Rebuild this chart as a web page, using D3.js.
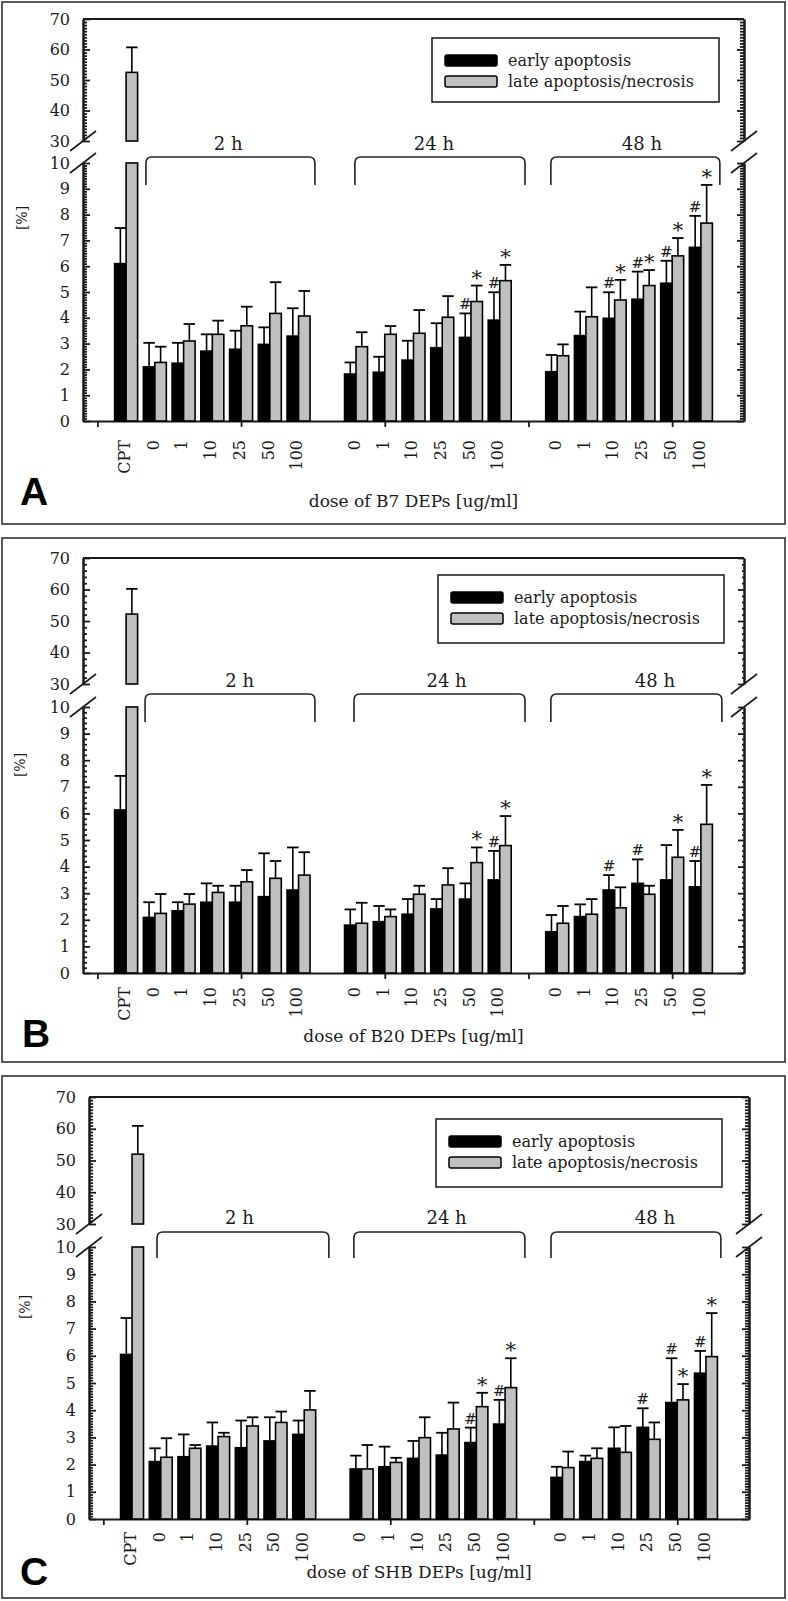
<!DOCTYPE html>
<html><head><meta charset="utf-8">
<script src="https://cdn.jsdelivr.net/npm/d3@7"></script>
<style>body{margin:0;background:#fff} svg{display:block}</style>
</head><body>
<svg id="chart" width="788" height="1601"></svg>
<script>
// ---------------- data ----------------
const doses = ["0", "1", "10", "25", "50", "100"];
const times = ["2 h", "24 h", "48 h"];
const seriesNames = ["early apoptosis", "late apoptosis/necrosis"];
const panelLetters = ["A", "B", "C"];
const xTitles = ["dose of B7 DEPs [ug/ml]", "dose of B20 DEPs [ug/ml]", "dose of SHB DEPs [ug/ml]"];
const yLowTicks = [0, 1, 2, 3, 4, 5, 6, 7, 8, 9, 10];
const yHighTicks = [30, 40, 50, 60, 70];

// positive control (CPT) per panel
const cptEarlyMean = [6.10, 6.13, 6.05];
const cptEarlyErr  = [1.38, 1.28, 1.34];
const cptLateMean  = [52.5, 52.2, 52.0];
const cptLateErr   = [8.2, 8.0, 8.9];

// order: 2 h (0,1,10,25,50,100), 24 h (...), 48 h (...)
const earlyMeanA = [2.10, 2.24, 2.71, 2.78, 2.97, 3.29,  1.82, 1.89, 2.36, 2.84, 3.24, 3.91,  1.91, 3.31, 3.98, 4.72, 5.34, 6.73];
const earlyErrA  = [0.93, 0.79, 0.65, 0.72, 0.66, 1.08,  0.45, 0.60, 0.75, 0.95, 0.93, 1.08,  0.65, 0.93, 1.01, 1.07, 0.87, 1.22];
const lateMeanA  = [2.27, 3.10, 3.36, 3.69, 4.17, 4.07,  2.88, 3.36, 3.40, 4.02, 4.63, 5.44,  2.53, 4.04, 4.69, 5.25, 6.40, 7.67];
const lateErrA   = [0.61, 0.66, 0.53, 0.74, 1.21, 0.97,  0.56, 0.32, 0.90, 0.82, 0.62, 0.61,  0.44, 1.14, 0.78, 0.60, 0.69, 1.48];
const sigEarlyA  = ["", "", "", "", "", "",  "", "", "", "", "#", "#",  "", "", "#", "#", "#", "#"];
const sigLateA   = ["", "", "", "", "", "",  "", "", "", "", "*", "*",  "", "", "*", "*", "*", "*"];

const earlyMeanB = [2.09, 2.34, 2.66, 2.66, 2.87, 3.12,  1.80, 1.93, 2.21, 2.41, 2.78, 3.50,  1.55, 2.12, 3.12, 3.37, 3.50, 3.24];
const earlyErrB  = [0.57, 0.32, 0.71, 0.62, 1.63, 1.60,  0.59, 0.59, 0.57, 0.37, 0.59, 1.09,  0.63, 0.46, 0.56, 0.90, 1.31, 0.97];
const lateMeanB  = [2.24, 2.59, 3.03, 3.43, 3.56, 3.68,  1.87, 2.12, 2.96, 3.31, 4.15, 4.79,  1.87, 2.21, 2.45, 2.96, 4.35, 5.59];
const lateErrB   = [0.73, 0.38, 0.25, 0.44, 0.65, 0.86,  0.77, 0.27, 0.32, 0.63, 0.57, 1.11,  0.65, 0.57, 0.77, 0.32, 1.03, 1.48];
const sigEarlyB  = ["", "", "", "", "", "",  "", "", "", "", "", "#",  "", "", "#", "#", "", "#"];
const sigLateB   = ["", "", "", "", "", "",  "", "", "", "", "*", "*",  "", "", "", "", "*", "*"];

const earlyMeanC = [2.11, 2.29, 2.68, 2.62, 2.87, 3.11,  1.84, 1.92, 2.23, 2.35, 2.81, 3.49,  1.53, 2.11, 2.60, 3.37, 4.28, 5.36];
const earlyErrC  = [0.49, 0.82, 0.87, 1.00, 0.87, 0.51,  0.49, 0.74, 0.64, 0.82, 0.55, 0.89,  0.39, 0.22, 0.77, 0.70, 1.63, 0.82];
const lateMeanC  = [2.27, 2.60, 3.03, 3.42, 3.55, 4.01,  1.84, 2.08, 2.99, 3.31, 4.13, 4.83,  1.89, 2.23, 2.45, 2.93, 4.38, 5.97];
const lateErrC   = [0.70, 0.12, 0.14, 0.32, 0.40, 0.70,  0.88, 0.17, 0.75, 0.97, 0.51, 1.08,  0.59, 0.37, 0.97, 0.62, 0.58, 1.60];
const sigEarlyC  = ["", "", "", "", "", "",  "", "", "", "", "#", "#",  "", "", "", "#", "#", "#"];
const sigLateC   = ["", "", "", "", "", "",  "", "", "", "", "*", "*",  "", "", "", "", "*", "*"];

// ---------------- layout ----------------
const layouts = [
  { box:[2,2,785,524], x0:83, x1:744, y70:19, y30:141, y10:163, y0:421,
    legend:[432,38,287,64], brTop:157, brBot:185, brLabY:150,
    br:[[1.69,7.57],[8.96,14.88],[15.78,21.66]], brLab:[4.55,11.71,18.95],
    letter:[20,505], titleY:507, yLab:[27,218], xLabOff:19,
    minorLow:0.1, minorHigh:1, rMajor:7, rMinor:4 },
  { box:[2,538,785,1062], x0:83, x1:744, y70:558, y30:684, y10:707, y0:973,
    legend:[438,575,286,68], brTop:694, brBot:722, brLabY:687,
    br:[[1.66,7.57],[8.93,14.88],[15.78,21.73]], brLab:[4.95,12.15,19.4],
    letter:[22,1047], titleY:1042, yLab:[25,765], xLabOff:14,
    minorLow:0.2, minorHigh:2, rMajor:6, rMinor:2 },
  { box:[2,1076,785,1598], x0:89, x1:749, y70:1097, y30:1224, y10:1247, y0:1519,
    legend:[436,1119,286,68], brTop:1232, brBot:1258, brLabY:1224,
    br:[[1.87,7.86],[8.73,14.69],[15.60,21.52]], brLab:[4.74,11.96,19.22],
    letter:[20,1585], titleY:1578, yLab:[30,1307], xLabOff:13,
    minorLow:0.1, minorHigh:1, rMajor:7, rMinor:4 }
];

const panelsData = [
  {em:earlyMeanA, ee:earlyErrA, lm:lateMeanA, le:lateErrA, se:sigEarlyA, sl:sigLateA},
  {em:earlyMeanB, ee:earlyErrB, lm:lateMeanB, le:lateErrB, se:sigEarlyB, sl:sigLateB},
  {em:earlyMeanC, ee:earlyErrC, lm:lateMeanC, le:lateErrC, se:sigEarlyC, sl:sigLateC}
];

const SERIF = "'DejaVu Serif', 'Liberation Serif', serif";
const INK = "#1a1a1a";
const GRAY = "#c0c0c0";
const svg = d3.select("#chart");

function drawPanel(L, D, pi) {
  const g = svg.append("g");
  // panel frame
  g.append("rect").attr("x", L.box[0]).attr("y", L.box[1])
    .attr("width", L.box[2]-L.box[0]).attr("height", L.box[3]-L.box[1])
    .attr("fill", "none").attr("stroke", "#333").attr("stroke-width", 1.6);

  const x = d3.scaleLinear().domain([-0.5, 22.5]).range([L.x0, L.x1]);
  const yL = d3.scaleLinear().domain([0, 10]).range([L.y0, L.y10]);
  const yU = d3.scaleLinear().domain([30, 70]).range([L.y30, L.y70]);
  const bw = 0.4;

  // build rows
  const rows = [];
  times.forEach((t, ti) => doses.forEach((d, di) => {
    const k = ti*6 + di;
    rows.push({slot: 2 + ti*7 + di, label: d,
      em: D.em[k], ee: D.ee[k], lm: D.lm[k], le: D.le[k], se: D.se[k], sl: D.sl[k]});
  }));

  // ---- axes ----
  const axStyle = sel => {
    sel.selectAll("path,line").attr("stroke", INK).attr("stroke-width", 1.8);
    sel.select(".domain").attr("stroke-width", 2);
  };
  // left axis, lower
  const minorLow = d3.range(0, 10 + 1e-9, L.minorLow).filter(v => Math.abs(v - Math.round(v)) > 1e-6);
  const minorHigh = d3.range(30, 70 + 1e-9, L.minorHigh).filter(v => Math.abs(v/10 - Math.round(v/10)) > 1e-6);

  const leftLow = g.append("g").attr("transform", `translate(${L.x0},0)`)
    .call(d3.axisLeft(yL).tickValues(yLowTicks).tickSize(-7).tickSizeOuter(0).tickPadding(13).tickFormat(d3.format("d")));
  const leftLowMinor = g.append("g").attr("transform", `translate(${L.x0},0)`)
    .call(d3.axisLeft(yL).tickValues(minorLow).tickSize(-4).tickSizeOuter(0).tickFormat(""));
  const leftHigh = g.append("g").attr("transform", `translate(${L.x0},0)`)
    .call(d3.axisLeft(yU).tickValues(yHighTicks).tickSize(-7).tickSizeOuter(0).tickPadding(13).tickFormat(d3.format("d")));
  const leftHighMinor = g.append("g").attr("transform", `translate(${L.x0},0)`)
    .call(d3.axisLeft(yU).tickValues(minorHigh).tickSize(-4).tickSizeOuter(0).tickFormat(""));
  // right axis
  const rightLow = g.append("g").attr("transform", `translate(${L.x1},0)`)
    .call(d3.axisRight(yL).tickValues(yLowTicks).tickSize(-L.rMajor).tickSizeOuter(0).tickFormat(""));
  const rightLowMinor = g.append("g").attr("transform", `translate(${L.x1},0)`)
    .call(d3.axisRight(yL).tickValues(minorLow).tickSize(-L.rMinor).tickSizeOuter(0).tickFormat(""));
  const rightHigh = g.append("g").attr("transform", `translate(${L.x1},0)`)
    .call(d3.axisRight(yU).tickValues(yHighTicks).tickSize(-L.rMajor).tickSizeOuter(0).tickFormat(""));
  const rightHighMinor = g.append("g").attr("transform", `translate(${L.x1},0)`)
    .call(d3.axisRight(yU).tickValues(minorHigh).tickSize(-L.rMinor).tickSizeOuter(0).tickFormat(""));
  [leftLow, leftLowMinor, leftHigh, leftHighMinor, rightLow, rightLowMinor, rightHigh, rightHighMinor].forEach(a => {
    axStyle(a);
    a.selectAll("text").attr("font-family", SERIF).attr("font-size", 16).attr("fill", INK);
  });

  // x axis
  const xAx = g.append("g").attr("transform", `translate(0,${L.y0})`)
    .call(d3.axisBottom(x).tickValues([0, 5, 10, 15, 20]).tickSize(6).tickSizeOuter(0).tickFormat(""));
  axStyle(xAx);
  // top frame line
  g.append("line").attr("x1", L.x0).attr("x2", L.x1).attr("y1", yU(70)).attr("y2", yU(70))
    .attr("stroke", INK).attr("stroke-width", 2);

  // axis breaks
  [L.x0, L.x1].forEach(ax => {
    [yU(30), yL(10)].forEach(yy => {
      g.append("line").attr("x1", ax - 13).attr("y1", yy + 10).attr("x2", ax + 13).attr("y2", yy - 10)
        .attr("stroke", INK).attr("stroke-width", 1.6);
    });
  });

  // x tick labels (rotated)
  const xlabels = [{slot: 1, label: "CPT"}].concat(rows.map(r => ({slot: r.slot, label: r.label})));
  g.selectAll(".xl").data(xlabels).join("text")
    .attr("transform", d => `translate(${x(d.slot) - 2},${L.y0 + L.xLabOff}) rotate(-90)`)
    .attr("text-anchor", "end").attr("dy", "0.36em")
    .attr("font-family", SERIF).attr("font-size", 16).attr("fill", INK)
    .text(d => d.label);

  // ---- bars ----
  const barG = g.append("g");
  const drawBar = (xa, xb, ya, yb, fill) => barG.append("rect")
    .attr("x", xa).attr("y", Math.min(ya, yb)).attr("width", xb - xa).attr("height", Math.abs(yb - ya))
    .attr("fill", fill).attr("stroke", "#000").attr("stroke-width", 1.6);
  const drawErr = (cx, w, ya, yb) => {
    barG.append("line").attr("x1", cx).attr("x2", cx).attr("y1", ya).attr("y2", yb)
      .attr("stroke", "#000").attr("stroke-width", 1.6);
    barG.append("line").attr("x1", cx - w/2).attr("x2", cx + w/2).attr("y1", yb).attr("y2", yb)
      .attr("stroke", "#000").attr("stroke-width", 1.8);
  };
  const drawSig = (cx, yy, s) => {
    if (!s) return;
    barG.append("text").attr("x", cx).attr("y", yy - (s === "*" ? 1 : 4))
      .attr("text-anchor", "middle").attr("font-family", SERIF)
      .attr("font-size", s === "*" ? 21 : 15).attr("fill", INK).text(s);
  };
  const w = x(bw) - x(0);

  // CPT
  const cs = 1;
  // early
  drawErr(x(cs - bw/2), w, yL(cptEarlyMean[pi]), yL(cptEarlyMean[pi] + cptEarlyErr[pi]));
  drawBar(x(cs - bw), x(cs), yL(0), yL(cptEarlyMean[pi]), "#000");
  // late : lower part cut at 10, upper part from 30
  drawBar(x(cs), x(cs + bw), yL(0), yL(10), GRAY);
  drawErr(x(cs + bw/2), w, yU(cptLateMean[pi]), yU(cptLateMean[pi] + cptLateErr[pi]));
  drawBar(x(cs), x(cs + bw), yU(30), yU(cptLateMean[pi]), GRAY);

  rows.forEach(r => {
    const s = r.slot;
    drawErr(x(s - bw/2), w, yL(r.em), yL(r.em + r.ee));
    drawErr(x(s + bw/2), w, yL(r.lm), yL(r.lm + r.le));
    drawBar(x(s - bw), x(s), yL(0), yL(r.em), "#000");
    drawBar(x(s), x(s + bw), yL(0), yL(r.lm), GRAY);
    drawSig(x(s - bw/2), yL(r.em + r.ee), r.se);
    drawSig(x(s + bw/2), yL(r.lm + r.le), r.sl);
  });

  // ---- time brackets ----
  times.forEach((t, ti) => {
    const xa = x(L.br[ti][0]), xb = x(L.br[ti][1]), yt = L.brTop, yb = L.brBot, r = 6;
    const p = d3.path();
    p.moveTo(xa, yb);
    p.lineTo(xa, yt + r);
    p.quadraticCurveTo(xa, yt, xa + r, yt);
    p.lineTo(xb - r, yt);
    p.quadraticCurveTo(xb, yt, xb, yt + r);
    p.lineTo(xb, yb);
    g.append("path").attr("d", p.toString()).attr("fill", "none")
      .attr("stroke", "#222").attr("stroke-width", 1.6);
    g.append("text").attr("x", x(L.brLab[ti])).attr("y", L.brLabY)
      .attr("text-anchor", "middle").attr("font-family", SERIF).attr("font-size", 18)
      .attr("fill", INK).text(t);
  });

  // ---- legend ----
  const [lx, ly, lw, lh] = L.legend;
  const lg = g.append("g").attr("transform", `translate(${lx},${ly})`);
  lg.append("rect").attr("width", lw).attr("height", lh).attr("fill", "#fff")
    .attr("stroke", "#222").attr("stroke-width", 1.6);
  [["#000", 17, 28], [GRAY, 38, 49]].forEach(([f, sy, ty], i) => {
    lg.append("rect").attr("x", 13).attr("y", sy).attr("width", 52).attr("height", 11).attr("rx", 2)
      .attr("fill", f).attr("stroke", "#000").attr("stroke-width", 1.5);
    lg.append("text").attr("x", 76).attr("y", ty).attr("font-family", SERIF).attr("font-size", 16)
      .attr("fill", INK).text(seriesNames[i]);
  });

  // ---- titles ----
  g.append("text").attr("x", (L.x0 + L.x1) / 2).attr("y", L.titleY).attr("text-anchor", "middle")
    .attr("font-family", SERIF).attr("font-size", 17).attr("fill", INK).text(xTitles[pi]);
  g.append("text").attr("transform", `translate(${L.yLab[0]},${L.yLab[1]}) rotate(-90)`)
    .attr("text-anchor", "middle").attr("font-family", SERIF).attr("font-size", 14)
    .attr("fill", INK).text("[%]");
  g.append("text").attr("x", L.letter[0]).attr("y", L.letter[1])
    .attr("font-family", "'Liberation Sans', Arial, sans-serif").attr("font-weight", "bold")
    .attr("font-size", 39).attr("fill", "#000").text(panelLetters[pi]);
}

layouts.forEach((L, i) => drawPanel(L, panelsData[i], i));
</script>
</body></html>
